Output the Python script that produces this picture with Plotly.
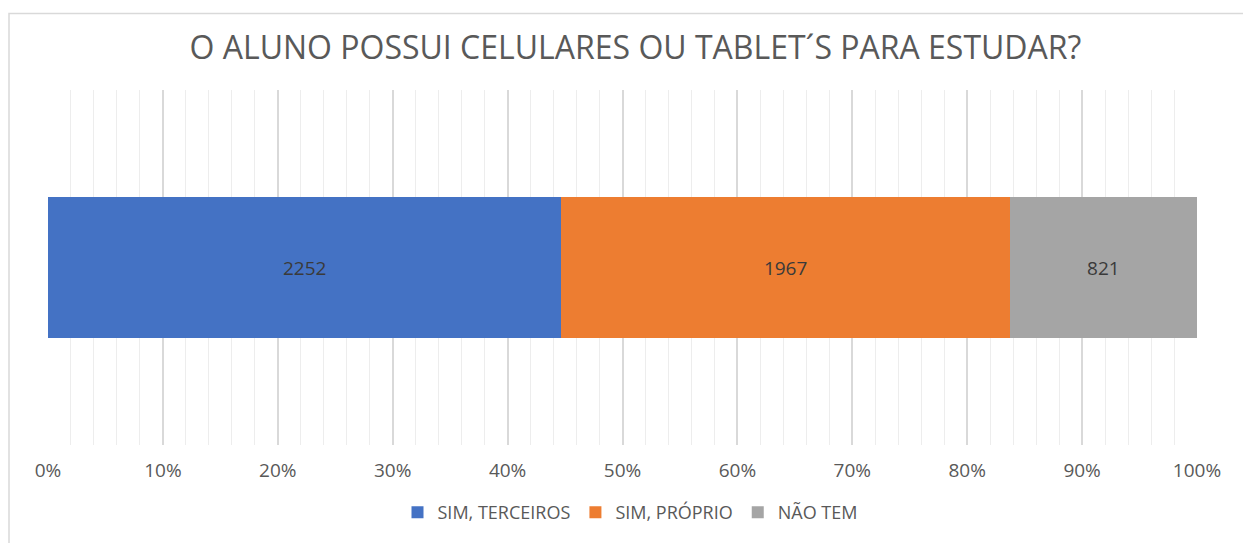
import plotly.graph_objects as go

categories = ["SIM, TERCEIROS", "SIM, PRÓPRIO", "NÃO TEM"]
values = [2252, 1967, 821]
colors = ["#4472C4", "#ED7D31", "#A5A5A5"]
tick_vals = [0, 10, 20, 30, 40, 50, 60, 70, 80, 90, 100]
tick_text = ["0%", "10%", "20%", "30%", "40%", "50%", "60%", "70%", "80%", "90%", "100%"]

FONT = "'Open Sans', Lato, sans-serif"

fig = go.Figure()
for name, v, c in zip(categories, values, colors):
    fig.add_trace(go.Bar(
        y=["Q"], x=[v], name=name, orientation="h",
        marker=dict(color=c, line=dict(width=0)),
        text=[str(v)], textposition="inside", insidetextanchor="middle",
        textfont=dict(color="#3A3A3A", size=19, family=FONT),
        hoverinfo="name+x",
    ))

OFF = 8  # page body margin
W, H = 1251 - OFF, 543 - OFF
L, R, T, B = 48 - OFF, 54, 90 - OFF, 91
pw, ph = W - L - R, H - T - B

def px_x(p):
    return (p - OFF - L) / pw

def px_y(p):
    return (H - B - (p - OFF)) / ph

fig.update_layout(
    width=W, height=H,
    barmode="stack", barnorm="percent", bargap=0.605,
    margin=dict(l=L, r=R, t=T, b=B),
    paper_bgcolor="white", plot_bgcolor="white",
    font=dict(family=FONT, color="#595959"),
    title=dict(text="O ALUNO POSSUI CELULARES OU TABLET´S PARA ESTUDAR?",
               x=px_x(628), xanchor="center", y=1 - (48 - OFF) / H, yanchor="middle",
               font=dict(size=32, color="#595959", family=FONT)),
    xaxis=dict(range=[0, 100], tickvals=tick_vals, ticktext=tick_text,
               showgrid=True, gridcolor="#D9D9D9", gridwidth=1.5,
               zeroline=False, showline=False, ticks="",
               ticklabelstandoff=12,
               tickfont=dict(size=19, color="#595959", family=FONT),
               minor=dict(dtick=2, showgrid=True, gridcolor="#EDEDED", gridwidth=1),
               fixedrange=True),
    yaxis=dict(showticklabels=False, showgrid=False, zeroline=False, showline=False,
               range=[-0.5, 0.5]),
    legend=dict(orientation="h", x=px_x(630), xanchor="center",
                y=px_y(521), yanchor="middle",
                font=dict(size=18, color="#595959", family=FONT),
                traceorder="normal"),
    showlegend=True,
    shapes=[dict(type="rect", xref="paper", yref="paper",
                 x0=px_x(OFF + 1), x1=px_x(1300), y0=px_y(600), y1=px_y(12),
                 line=dict(color="#D9D9D9", width=1.5), fillcolor="rgba(0,0,0,0)",
                 layer="below")],
)

fig.write_html("out.html")
